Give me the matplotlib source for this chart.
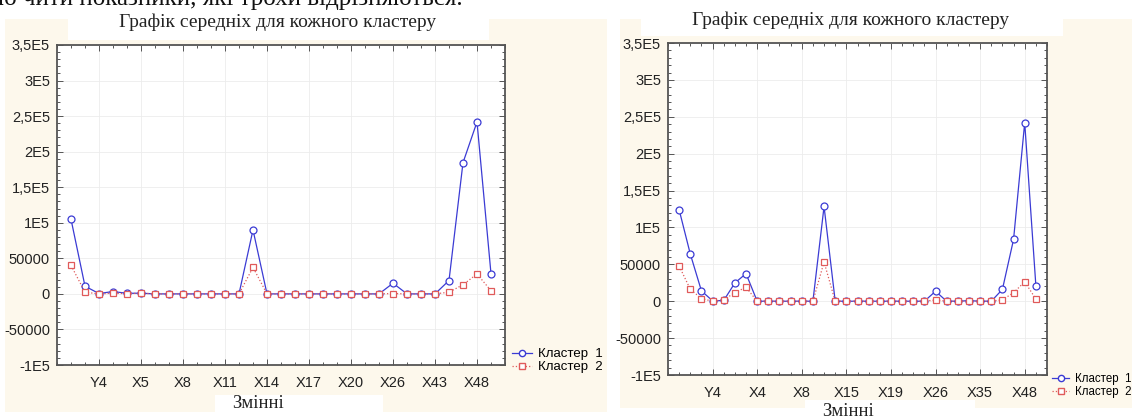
import matplotlib
matplotlib.use("Agg")
import matplotlib.pyplot as plt
from matplotlib.patches import Rectangle
from matplotlib.ticker import FixedLocator, AutoMinorLocator, MultipleLocator
from matplotlib.lines import Line2D

# ---- data ----
title = "Графік середніх для кожного кластеру"
xlabel = "Змінні"
series_names = ["Кластер  1", "Кластер  2"]
top_text = "ю чити показники, які трохи відрізняються."

ytick_vals = [-100000, -50000, 0, 50000, 100000, 150000, 200000, 250000, 300000, 350000]
ytick_labels = ["-1E5", "-50000", "0", "50000", "1E5", "1,5E5", "2E5", "2,5E5", "3E5", "3,5E5"]

left_c1 = [105000, 10800, 500, 3300, 800, 1000, 0, 0, 0, 0, 0, 0, 0,
           90000, 0, 0, 0, 0, 0, 0, 0, 0, 0,
           15000, 0, 0, 0, 18800, 184500, 241800, 28300]
left_c2 = [40100, 2400, 0, 1000, 300, 1000, 0, 0, 0, 0, 0, 0, 0,
           37300, 0, 0, 0, 0, 0, 0, 0, 0, 0,
           500, 0, 0, 0, 2400, 12900, 28000, 4500]
left_tick_labels = ["Y4", "X5", "X8", "X11", "X14", "X17", "X20", "X26", "X43", "X48"]
left_tick_step = 3

right_c1 = [123900, 64000, 14000, 500, 1000, 24800, 37400, 0, 0, 0, 0, 0, 0,
            128400, 0, 0, 0, 0, 0, 0, 0, 0, 0,
            13500, 0, 0, 800, 0, 0, 16000, 83700, 242000, 21300]
right_c2 = [47700, 16200, 3600, 0, 1800, 11700, 18900, 0, 0, 0, 0, 0, 0,
            53200, 0, 0, 0, 0, 0, 0, 0, 0, 0,
            1800, 0, 0, 0, 0, 0, 2000, 11500, 26400, 3000]
right_tick_labels = ["Y4", "X4", "X8", "X15", "X19", "X26", "X35", "X48"]
right_tick_step = 4

W, H = 1132, 419
BEIGE = "#fdf8ec"
BLUE = "#3b3bd4"
RED = "#e05a5a"
SERIF = ["Liberation Serif", "DejaVu Serif"]
SANS = ["Liberation Sans", "DejaVu Sans"]

fig = plt.figure(figsize=(W / 100, H / 100), dpi=100)
fig.patch.set_facecolor("white")


def px_rect(x0, y0, x1, y1, color):
    # rectangle in pixel coords, y measured from the top
    fig.add_artist(Rectangle((x0 / W, 1 - y1 / H), (x1 - x0) / W, (y1 - y0) / H,
                             transform=fig.transFigure, facecolor=color,
                             edgecolor="none", zorder=0))


def px_text(x, y, s, **kw):
    fig.text(x / W, 1 - y / H, s, **kw)


def panel(box, c1, c2, labels, step, legend_xy, legend_size):
    x0, y0, x1, y1 = box
    ax = fig.add_axes([x0 / W, 1 - y1 / H, (x1 - x0) / W, (y1 - y0) / H])
    ax.set_facecolor("white")
    n = len(c1)
    xs = list(range(1, n + 1))
    ax.plot(xs, c1, "-", color=BLUE, lw=0.9, marker="o", ms=5,
            mfc="white", mec=BLUE, mew=0.9, zorder=3)
    ax.plot(xs, c2, ":", color=RED, lw=0.9, marker="s", ms=5,
            mfc="white", mec=RED, mew=0.9, zorder=4)
    ax.set_xlim(0, n + 1)
    ax.set_ylim(-100000, 350000)
    ticks = [step * (i + 1) for i in range(len(labels))]
    ax.xaxis.set_major_locator(FixedLocator(ticks))
    ax.set_xticklabels(labels, fontsize=10.5, family=SANS, color="#222")
    ax.xaxis.set_minor_locator(MultipleLocator(1))
    ax.yaxis.set_major_locator(FixedLocator(ytick_vals))
    ax.set_yticklabels(ytick_labels, fontsize=10.5, family=SANS, color="#222")
    ax.yaxis.set_minor_locator(AutoMinorLocator(5))
    ax.tick_params(which="both", direction="in", top=True, right=True,
                   color="#555", width=0.7)
    ax.tick_params(which="major", length=4, pad=5)
    ax.tick_params(which="minor", length=2)
    ax.tick_params(axis="x", which="major", pad=8)
    ax.grid(True, which="major", color="#ececec", lw=0.6)
    ax.set_axisbelow(True)
    for sp in ax.spines.values():
        sp.set_color("#555")
        sp.set_linewidth(1.3)
    handles = [Line2D([], [], color=BLUE, lw=0.9, marker="o", ms=4.5, mfc="white", mec=BLUE),
               Line2D([], [], color=RED, lw=0.9, ls=":", marker="s", ms=4.5, mfc="white", mec=RED)]
    lx, ly = legend_xy
    fig.legend(handles, series_names, loc="upper left",
               bbox_to_anchor=(lx / W, 1 - ly / H), frameon=False,
               prop={"family": SANS, "size": legend_size}, handlelength=1.5,
               handletextpad=0.5, labelspacing=0.05, borderpad=0, borderaxespad=0)
    return ax


# background of the scanned page: beige panels with white boxes
px_rect(5, 19, 607, 412, BEIGE)
px_rect(68, 10, 489, 40, "white")
px_rect(215, 395, 383, 419, "white")
px_rect(620, 19, 1132, 408, BEIGE)
px_rect(641, 8, 1063, 36, "white")
px_rect(805, 400, 975, 419, "white")

# line of page text cut off at the top
px_text(-2, 5, top_text, fontsize=18, family=SERIF, color="#111", va="baseline")

panel((57, 45, 505, 365), left_c1, left_c2, left_tick_labels, left_tick_step, (512, 348), 9.5)
panel((668, 43, 1047, 375), right_c1, right_c2, right_tick_labels, right_tick_step, (1052, 373), 8.3)

px_text(278, 22, title, fontsize=14, family=SERIF, color="#222", ha="center", va="center")
px_text(851, 20, title, fontsize=14, family=SERIF, color="#222", ha="center", va="center")
px_text(258, 403, xlabel, fontsize=13.5, family=SERIF, color="#222", ha="center", va="center")
px_text(848, 411, xlabel, fontsize=13.5, family=SERIF, color="#222", ha="center", va="center")

fig.savefig("out.png", dpi=100)
